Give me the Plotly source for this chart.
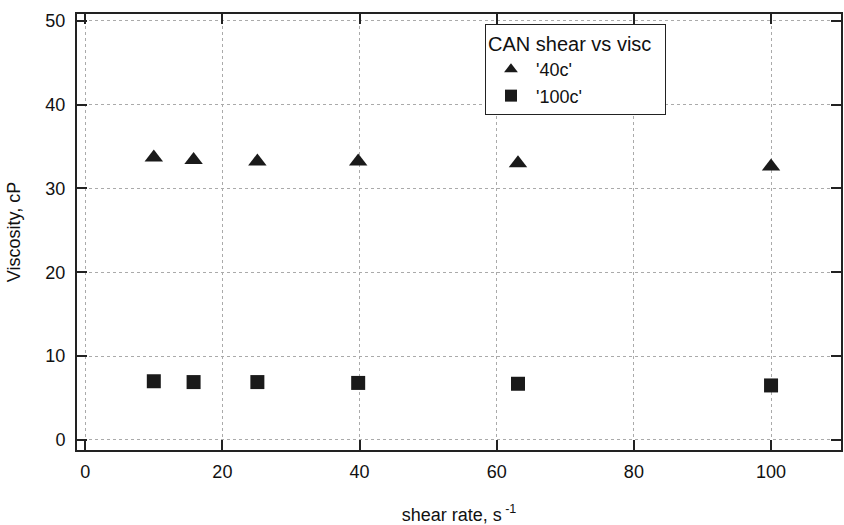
import plotly.graph_objects as go

shear_rate = [10, 15.8, 25.1, 39.8, 63.1, 100]
visc_40c = [33.7, 33.4, 33.2, 33.2, 33.0, 32.6]
visc_100c = [7.0, 6.9, 6.9, 6.8, 6.7, 6.5]
x_ticks = [0, 20, 40, 60, 80, 100]
y_ticks = [0, 10, 20, 30, 40, 50]

font = "Liberation Sans, Arial, sans-serif"

fig = go.Figure()
fig.add_trace(go.Scatter(x=shear_rate, y=visc_40c, mode="markers", name="'40c'",
                         marker=dict(symbol="triangle-up", size=16, color="#1a1a1a")))
fig.add_trace(go.Scatter(x=shear_rate, y=visc_100c, mode="markers", name="'100c'",
                         marker=dict(symbol="square", size=14, color="#1a1a1a")))

axis_common = dict(showline=True, linecolor="#222", linewidth=2, mirror="allticks",
                   ticks="inside", ticklen=10, tickwidth=1.5, tickcolor="#222",
                   showgrid=True, gridcolor="#aaa", griddash="dot", gridwidth=1,
                   zeroline=False, tickfont=dict(size=18, color="#111", family=font))

fig.update_layout(
    width=844, height=525,
    margin=dict(l=77, r=1, t=14, b=74),
    paper_bgcolor="white", plot_bgcolor="white",
    font=dict(family=font, color="#111"),
    xaxis=dict(range=[-1.2, 110.2], tickvals=x_ticks, ticklabelstandoff=4,
               title=dict(text="shear rate, s<sup> -1</sup>", font=dict(size=18), standoff=30),
               **axis_common),
    yaxis=dict(range=[-1.2, 50.8], tickvals=y_ticks, ticklabelstandoff=6,
               title=dict(text="Viscosity, cP", font=dict(size=18), standoff=20),
               **axis_common),
    legend=dict(x=0.534, y=0.977, xanchor="left", yanchor="top",
                bgcolor="white", bordercolor="#222", borderwidth=1,
                title=dict(text="CAN shear vs visc  ", font=dict(size=20)),
                font=dict(size=18), itemwidth=40, tracegroupgap=0, itemsizing="constant"),
    showlegend=True,
)

fig.write_html("out.html")
